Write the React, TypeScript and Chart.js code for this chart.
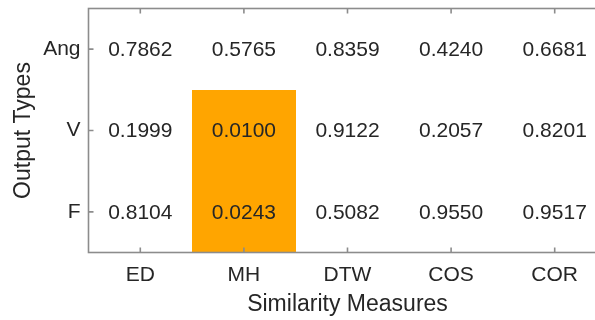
import React, { useEffect, useRef } from "react";
import { Chart, registerables } from "chart.js";

Chart.register(...registerables);

const measures = ["ED", "MH", "DTW", "COS", "COR"];
const outputTypes = ["Ang", "V", "F"];
const angValues = [0.7862, 0.5765, 0.8359, 0.424, 0.6681];
const vValues = [0.1999, 0.01, 0.9122, 0.2057, 0.8201];
const fValues = [0.8104, 0.0243, 0.5082, 0.955, 0.9517];
const highlightThreshold = 0.05;

const FONT = "'Liberation Sans', Arial, Helvetica, sans-serif";
const TEXT = "#262626";
const AXIS = "#8c8c8c";
const ORANGE = "#FFA500";

const rows = [angValues, vValues, fValues];

const cellPlugin = {
  id: "cells",
  beforeDatasetsDraw(chart: any) {
    const { ctx } = chart;
    const xs = chart.scales.x;
    const ys = chart.scales.y;
    const pts = chart.data.datasets[0].data as any[];
    ctx.save();
    ctx.fillStyle = ORANGE;
    pts.forEach((p) => {
      if (p.v < highlightThreshold) {
        const x0 = Math.round(xs.getPixelForValue(p.x - 0.5));
        const x1 = Math.round(xs.getPixelForValue(p.x + 0.5));
        const y0 = Math.round(ys.getPixelForValue(p.y - 0.5));
        const y1 = Math.round(ys.getPixelForValue(p.y + 0.5));
        ctx.fillRect(Math.min(x0, x1), Math.min(y0, y1), Math.abs(x1 - x0), Math.abs(y1 - y0));
      }
    });
    ctx.restore();
  },
  afterDatasetsDraw(chart: any) {
    const { ctx, chartArea } = chart;
    const xs = chart.scales.x;
    const ys = chart.scales.y;
    const pts = chart.data.datasets[0].data as any[];
    ctx.save();
    ctx.fillStyle = TEXT;
    ctx.font = `21px ${FONT}`;
    ctx.textAlign = "center";
    ctx.textBaseline = "middle";
    pts.forEach((p) => {
      ctx.fillText(p.v.toFixed(4), xs.getPixelForValue(p.x), ys.getPixelForValue(p.y) + 1);
    });
    ctx.strokeStyle = AXIS;
    ctx.lineWidth = 1.6;
    const { left, right, top, bottom } = chartArea;
    ctx.strokeRect(left, top, right - left, bottom - top);
    ctx.beginPath();
    measures.forEach((_, i) => {
      const x = xs.getPixelForValue(i);
      ctx.moveTo(x, top);
      ctx.lineTo(x, top + 5);
      ctx.moveTo(x, bottom);
      ctx.lineTo(x, bottom - 5);
    });
    outputTypes.forEach((_, j) => {
      const y = ys.getPixelForValue(j);
      ctx.moveTo(left, y);
      ctx.lineTo(left + 5, y);
      ctx.moveTo(right, y);
      ctx.lineTo(right - 5, y);
    });
    ctx.stroke();
    ctx.restore();
  },
};

export default function App() {
  const ref = useRef<HTMLCanvasElement | null>(null);

  useEffect(() => {
    if (!ref.current) return;
    const data: any[] = [];
    rows.forEach((vals, j) => {
      vals.forEach((v, i) => data.push({ x: i, y: j, v }));
    });
    const chart = new Chart(ref.current, {
      type: "scatter",
      data: {
        datasets: [
          {
            data,
            pointRadius: 0,
            pointHoverRadius: 0,
          } as any,
        ],
      },
      options: {
        animation: false,
        responsive: false,
        devicePixelRatio: 1,
        layout: { padding: { top: 8.5, right: 13.5, left: 0, bottom: 0 } },
        plugins: { legend: { display: false }, tooltip: { enabled: false } },
        scales: {
          x: {
            type: "linear",
            position: "bottom",
            min: -0.5,
            max: 4.5,
            grid: { display: false, drawTicks: false },
            border: { display: false },
            afterBuildTicks: (s: any) => {
              s.ticks = measures.map((_, i) => ({ value: i }));
            },
            afterFit: (s: any) => {
              s.height = 67.5;
              s.paddingLeft = 0;
              s.paddingRight = 0;
              s.paddingTop = 0;
              s.paddingBottom = 0;
            },
            ticks: {
              autoSkip: false,
              maxRotation: 0,
              padding: 10,
              color: TEXT,
              font: { family: FONT, size: 21 },
              callback: (v: any) => measures[v as number],
            },
            title: {
              display: true,
              text: "Similarity Measures",
              color: TEXT,
              font: { family: FONT, size: 23 },
              padding: { top: 0, bottom: 1.2 },
            },
          },
          y: {
            type: "linear",
            position: "left",
            min: -0.5,
            max: 2.5,
            reverse: true,
            grid: { display: false, drawTicks: false },
            border: { display: false },
            afterBuildTicks: (s: any) => {
              s.ticks = outputTypes.map((_, j) => ({ value: j }));
            },
            afterFit: (s: any) => {
              s.width = 88.5;
              s.paddingLeft = 0;
              s.paddingRight = 0;
              s.paddingTop = 0;
              s.paddingBottom = 0;
            },
            ticks: {
              autoSkip: false,
              padding: 8,
              color: TEXT,
              font: { family: FONT, size: 21 },
              callback: (v: any) => outputTypes[v as number],
            },
            title: {
              display: true,
              text: "Output Types",
              color: TEXT,
              font: { family: FONT, size: 23 },
              padding: { top: 10, bottom: 0 },
            },
          },
        },
      },
      plugins: [cellPlugin],
    });
    return () => chart.destroy();
  }, []);

  return (
    <div
      style={{
        position: "fixed",
        left: 0,
        top: 0,
        width: 595,
        height: 320,
        overflow: "hidden",
        background: "#fff",
      }}
    >
      <canvas ref={ref} width={620} height={320} style={{ width: 620, height: 320, display: "block" }} />
    </div>
  );
}
